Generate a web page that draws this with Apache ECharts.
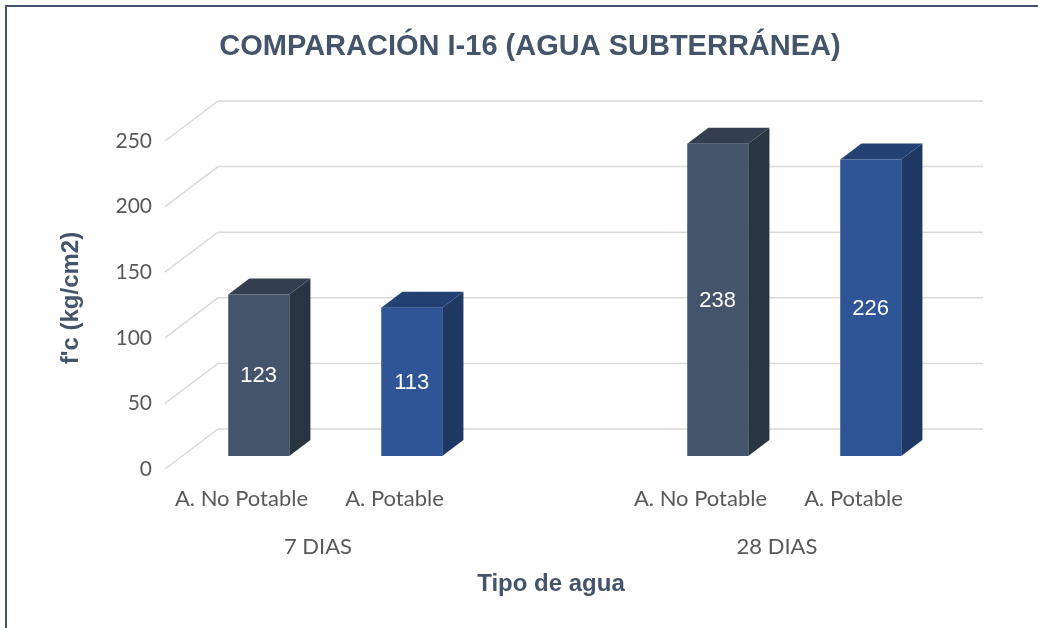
<!DOCTYPE html>
<html>
<head>
<meta charset="utf-8">
<title>Comparación I-16</title>
<script src="https://cdn.jsdelivr.net/npm/echarts@6/dist/echarts.min.js"></script>
<style>
  html, body { margin: 0; padding: 0; background: #fff; }
  #chart { width: 1038px; height: 628px; }
</style>
</head>
<body>
<div id="chart"></div>
<script>
const dias = ['7 DIAS', '28 DIAS'];
const tipos = ['A. No Potable', 'A. Potable'];
const fcNoPotable = [123, 238];
const fcPotable = [113, 226];
const yTicks = [0, 50, 100, 150, 200, 250];

// 3D look (pixels): full depth of the box, and where the bars sit in it
const DEPTH = [53, -40];
const BAR_FRONT = 0.325;
const BAR_DEPTH = 0.4;
const BAR_WIDTH = 61;

const frontColors = ['#44546A', '#2F5597'];
const topColors = ['#333F50', '#234173'];
const sideColors = ['#2A3542', '#1F3864'];

// slots on the axis: the categories of each group, with an empty slot between groups
const slots = [];
const groupSlots = [];
const barData = [];
dias.forEach(function (d, g) {
  if (g > 0) slots.push('');
  const first = slots.length;
  tipos.forEach(function (t, c) {
    const values = c === 0 ? fcNoPotable : fcPotable;
    barData.push([slots.length, values[g], c]);
    slots.push(t);
  });
  groupSlots.push([first, slots.length - 1, g]);
});

function renderWall(params, api) {
  const cs = params.coordSys;
  const y = api.coord([0, api.value(0)])[1];
  const x0 = cs.x, x1 = cs.x + cs.width;
  return {
    type: 'polyline',
    shape: { points: [[x0, y], [x0 + DEPTH[0], y + DEPTH[1]], [x1 + DEPTH[0], y + DEPTH[1]]] },
    style: { stroke: '#D9D9D9', lineWidth: 1.5, fill: null }
  };
}

function renderBar(params, api) {
  const slot = api.value(0), val = api.value(1), c = api.value(2);
  const base = api.coord([slot, 0]);
  const top = api.coord([slot, val]);
  const ox = BAR_FRONT * DEPTH[0], oy = BAR_FRONT * DEPTH[1];
  const dx = BAR_DEPTH * DEPTH[0], dy = BAR_DEPTH * DEPTH[1];
  const x0 = base[0] + ox - BAR_WIDTH / 2, x1 = x0 + BAR_WIDTH;
  const yb = base[1] + oy, yt = top[1] + oy;
  return {
    type: 'group',
    children: [
      {
        type: 'polygon',
        shape: { points: [[x1, yb], [x1, yt], [x1 + dx, yt + dy], [x1 + dx, yb + dy]] },
        style: { fill: sideColors[c] }
      },
      {
        type: 'polygon',
        shape: { points: [[x0, yt], [x1, yt], [x1 + dx, yt + dy], [x0 + dx, yt + dy]] },
        style: { fill: topColors[c] }
      },
      {
        type: 'rect',
        shape: { x: x0, y: yt, width: BAR_WIDTH, height: yb - yt },
        style: { fill: frontColors[c] }
      },
      {
        type: 'text',
        style: {
          text: String(val), x: (x0 + x1) / 2, y: (yt + yb) / 2 + 1,
          align: 'center', verticalAlign: 'middle',
          fill: '#fff', fontSize: 22, fontFamily: 'Liberation Sans, Arial'
        }
      }
    ]
  };
}

function renderGroupLabel(params, api) {
  const a = api.coord([api.value(0), 0]);
  const b = api.coord([api.value(1), 0]);
  return {
    type: 'text',
    style: {
      text: dias[api.value(2)], x: (a[0] + b[0]) / 2, y: a[1] + 78,
      align: 'center', verticalAlign: 'middle',
      fill: '#595959', fontSize: 22, fontFamily: 'Lato'
    }
  };
}

const chart = echarts.init(document.getElementById('chart'));
chart.setOption({
  animation: false,
  title: {
    text: 'COMPARACIÓN I-16 (AGUA SUBTERRÁNEA)',
    left: 525, top: 27, textAlign: 'center',
    textStyle: { color: '#44546A', fontSize: 29, fontWeight: 'bold', fontFamily: 'Liberation Sans, Arial' }
  },
  graphic: [{
    type: 'rect',
    shape: { x: 6, y: 6, width: 1100, height: 700 },
    style: { fill: null, stroke: '#44546A', lineWidth: 2 },
    silent: true
  }],
  grid: { left: 165, top: 141, width: 765, height: 328 },
  xAxis: {
    type: 'category',
    data: slots,
    axisLine: { show: false },
    axisTick: { show: false },
    axisLabel: { color: '#595959', fontSize: 22, fontFamily: 'Lato', margin: 19, interval: 0 },
    name: 'Tipo de agua',
    nameLocation: 'middle',
    nameGap: 103,
    nameTextStyle: { color: '#44546A', fontSize: 24, fontWeight: 'bold', fontFamily: 'Liberation Sans, Arial', padding: [0, 0, 0, 7] }
  },
  yAxis: {
    type: 'value',
    min: 0, max: 250, interval: 50,
    axisLine: { show: false },
    axisTick: { show: false },
    splitLine: { show: false },
    axisLabel: { color: '#595959', fontSize: 21, fontFamily: 'Lato', margin: 13, padding: [0, 0, 6, 0] },
    name: "f'c (kg/cm2)",
    nameLocation: 'middle',
    nameRotate: 90,
    nameGap: 82,
    nameTextStyle: { color: '#44546A', fontSize: 24, fontWeight: 'bold', fontFamily: 'Liberation Sans, Arial', padding: [0, 0, 0, 14] }
  },
  series: [
    { type: 'custom', name: 'walls', renderItem: renderWall, data: yTicks.map(function (v) { return [v]; }), silent: true, z: 1 },
    { type: 'custom', name: 'fc', renderItem: renderBar, data: barData, z: 2 },
    { type: 'custom', name: 'dias', renderItem: renderGroupLabel, data: groupSlots, silent: true, clip: false, z: 2 }
  ]
});
</script>
</body>
</html>
